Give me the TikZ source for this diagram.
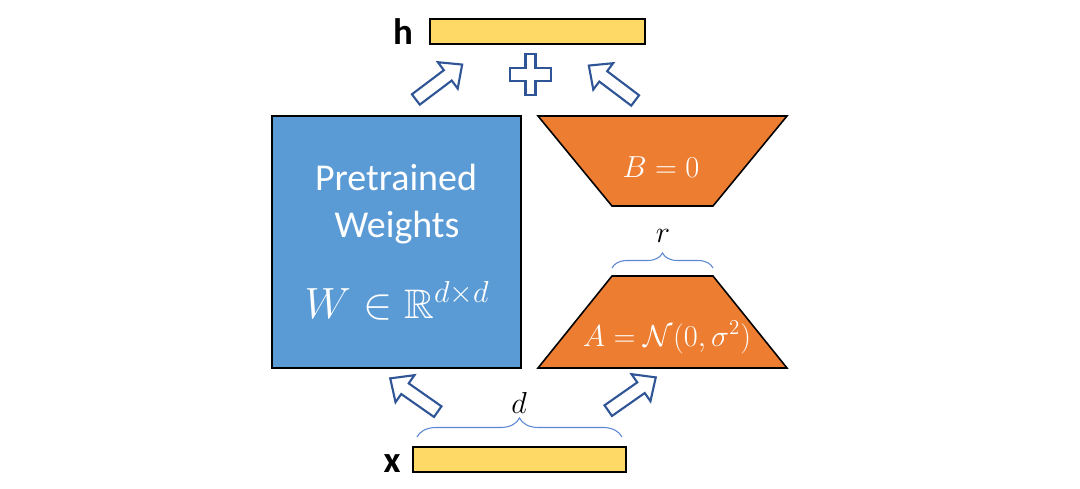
\documentclass[tikz,border=0pt]{standalone}
\usepackage{amsmath}
\usepackage{amssymb}
\usepackage{xcolor}
\usepackage{fontspec}
\setmainfont{Carlito}
\usepackage{tikz}
\usetikzlibrary{decorations.pathreplacing}
\definecolor{vecyellow}{HTML}{FFD966}
\definecolor{wblue}{HTML}{5B9BD5}
\definecolor{loraorange}{HTML}{ED7D31}
\definecolor{arrowblue}{HTML}{2F5597}
\definecolor{braceblue}{HTML}{5B86D0}
\def\lorapx{0.02cm}
\def\bigtext{\fontsize{21.6}{26}\selectfont}
\def\mathtext{\fontsize{17}{20}\selectfont}

\begin{document}
\begin{tikzpicture}[x=\lorapx, y=-\lorapx,
		vecbar/.style={draw=black, line width=0.9pt, fill=vecyellow, inner sep=0pt},
		trap/.style={draw=black, line width=0.9pt, fill=loraorange, line join=miter},
		lbl/.style={inner sep=0pt, anchor=base},
		curly/.style={braceblue, line width=0.6pt, decorate, decoration={brace, amplitude=#1}},
		outline/.style={draw=arrowblue, line width=1.2pt, fill=white, line join=miter},
		blockarr/.pic={
			\draw[outline] (-29,-6.5) -- (11,-6.5) -- (11,-16.5) -- (29,0)
				-- (11,16.5) -- (11,6.5) -- (-29,6.5) -- cycle;
		}]
		\useasboundingbox[fill=white] (0,0) rectangle (1080,488);

		% input and output vectors
		\node (hbar) [vecbar, minimum width=4.3cm, minimum height=0.5cm] at (537.5,31.5) {};
		\node (xbar) [vecbar, minimum width=4.26cm, minimum height=0.5cm] at (519.5,459.5) {};
		\node (hlbl) [lbl] at (403,44) {\fontsize{21}{25}\selectfont\bfseries h};
		\node (xlbl) [lbl] at (392,472) {\fontsize{21}{25}\selectfont\bfseries x};

		% frozen weights
		\node (W) [draw=black, line width=0.9pt, fill=wblue, inner sep=0pt,
			minimum width=4.98cm, minimum height=5.04cm] at (396.5,242) {};
		\node (pre) [lbl, white] at (396,190) {\bigtext Pretrained};
		\node (wts) [lbl, white] at (397,237) {\bigtext Weights};
		\node (wdim) [lbl, white] at (397,318) {\fontsize{23.5}{28}\selectfont$W \in \mathbb{R}^{d\times d}$};

		% low rank factors
		\draw[trap] (538,116) -- (787,116) -- (713,206) -- (612,206) -- cycle;
		\draw[trap] (612,276) -- (713,276) -- (787,368) -- (538,368) -- cycle;
		\node (B) [lbl, white] at (661,177) {\mathtext$B = 0$};
		\node (A) [lbl, white] at (667,346) {\mathtext$A = \mathcal{N}(0, \sigma^2)$};

		% dimensions
		\coordinate (rl) at (612,268);
		\coordinate (rr) at (713,268);
		\coordinate (dl) at (417,437);
		\coordinate (dr) at (622,437);
		\draw[curly=0.3cm] (rl) -- (rr);
		\draw[curly=0.38cm] (dl) -- (dr);
		\node (r) [lbl] at (663,242) {\mathtext$r$};
		\node (d) [lbl] at (519,413) {\mathtext$d$};

		% sum
		\draw[outline] (525.5,54) -- (535.5,54) -- (535.5,68) -- (551,68) -- (551,81)
			-- (535.5,81) -- (535.5,95) -- (525.5,95) -- (525.5,81) -- (510,81)
			-- (510,68) -- (525.5,68) -- cycle;

		\pic[rotate=37] at (439,82) {blockarr};
		\pic[rotate=143] at (612,83) {blockarr};
		\pic[rotate=145] at (414,395) {blockarr};
		\pic[rotate=35] at (632,394) {blockarr};
	\end{tikzpicture}
\end{document}
